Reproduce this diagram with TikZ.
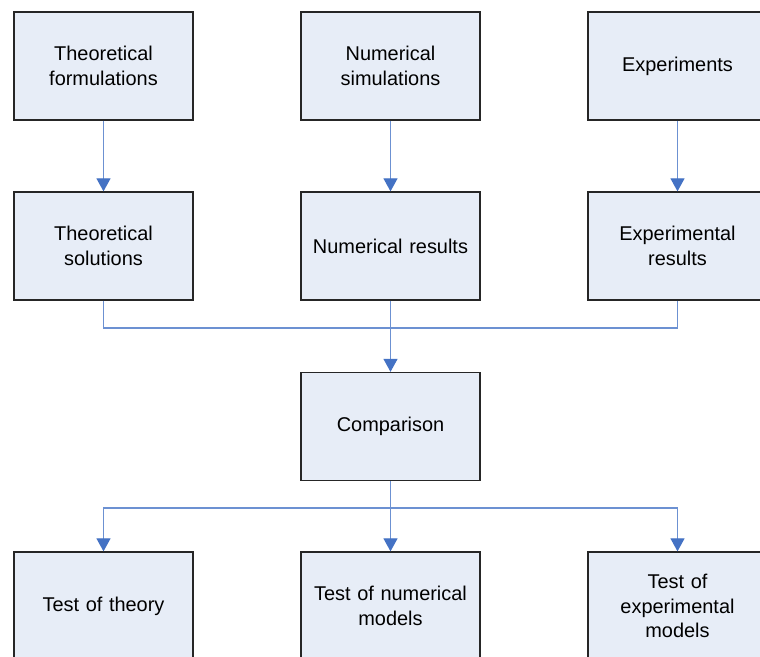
\documentclass[tikz,border=0pt]{standalone}
\usepackage{fontspec}
\setmainfont{Liberation Sans}
\usetikzlibrary{arrows.meta}
\definecolor{boxfill}{HTML}{E7EDF7}
\definecolor{linkblue}{HTML}{6C91D2}
\definecolor{tipblue}{HTML}{4472C4}
\tikzset{
  stepbox/.style={draw=black!85, line width=1.3bp, fill=boxfill, minimum width=179bp, minimum height=108bp,
    inner sep=0pt, align=center, text width=170bp, font=\fontsize{20}{24.5}\selectfont},
  link/.style={draw=linkblue, line width=1.2bp},
  arrowlink/.style={link, -{Triangle[width=14bp,length=13bp,fill=tipblue,color=tipblue]}}
}
\begin{document}
\begin{tikzpicture}[x=1bp,y=-1bp]
\useasboundingbox (0,0) rectangle (760,657);
\clip (0,0) rectangle (760,657);
\fill[white] (0,0) rectangle (760,657);
\node[stepbox] (tf) at (103.5,66) {Theoretical\\formulations};
\node[stepbox] (ns) at (390.5,66) {Numerical\\simulations};
\node[stepbox] (ex) at (677.5,66) {Experiments};
\node[stepbox] (ts) at (103.5,246) {Theoretical\\solutions};
\node[stepbox] (nr) at (390.5,246) {Numerical results};
\node[stepbox] (er) at (677.5,246) {Experimental\\results};
\node[stepbox] (cmp) at (390.5,426.5) {Comparison};
\node[stepbox] (tt) at (103.5,606) {Test of theory};
\node[stepbox] (tn) at (390.5,606) {Test of numerical\\models};
\node[stepbox] (te) at (677.5,606) {Test of\\experimental\\models};
\coordinate (j1) at (390.5,328);
\coordinate (j2) at (390.5,508);
\draw[arrowlink] (tf) -- (ts);
\draw[arrowlink] (ns) -- (nr);
\draw[arrowlink] (ex) -- (er);
\draw[link] (ts.south) |- (j1);
\draw[link] (er.south) |- (j1);
\draw[arrowlink] (nr) -- (cmp);
\draw[arrowlink] (cmp) -- (tn);
\draw[arrowlink] (j2) -| (tt.north);
\draw[arrowlink] (j2) -| (te.north);
\end{tikzpicture}
\end{document}
